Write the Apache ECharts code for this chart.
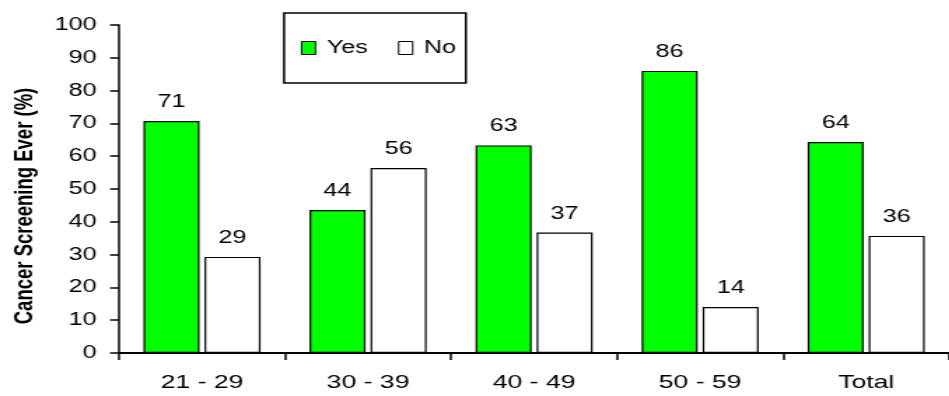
<!DOCTYPE html>
<html><head><meta charset="utf-8">
<script src="https://cdn.jsdelivr.net/npm/echarts@6/dist/echarts.min.js"></script>
<style>
html,body{margin:0;padding:0;overflow:hidden;background:#fff;width:949px;height:396px}
#chart{width:678px;height:396px;transform:scaleX(1.4);transform-origin:0 0;}
</style></head><body><div id="chart"></div>
<script>
const categories = ['21 - 29', '30 - 39', '40 - 49', '50 - 59', 'Total'];
const seriesNames = ['Yes', 'No'];
const yesValues = [70.7, 43.6, 63.3, 86.0, 64.3];
const noValues = [29.3, 56.4, 36.7, 14.0, 35.7];
const yAxisTitle = 'Cancer Screening Ever (%)';

const FONT = "'Liberation Sans', Arial, sans-serif";
const chart = echarts.init(document.getElementById('chart'), null, {renderer: 'canvas'});
const labelOpt = {
  show: true, position: 'top', distance: 10,
  fontFamily: FONT, fontSize: 18, color: '#000',
  formatter: p => String(Math.round(p.value))
};
chart.setOption({
  animation: false,
  backgroundColor: '#fff',
  textStyle: {fontFamily: FONT},
  grid: {left: 83.6, top: 25, width: 600, height: 328, containLabel: false},
  legend: {
    data: seriesNames,
    left: 202.9, top: 13,
    orient: 'horizontal',
    icon: 'rect',
    itemWidth: 10, itemHeight: 13, itemGap: 21.5,
    padding: [26, 7, 26, 12],
    borderColor: '#000', borderWidth: 1.5,
    itemStyle: {borderColor: '#000', borderWidth: 1},
    textStyle: {fontFamily: FONT, fontSize: 18, color: '#000', padding: [0, 0, 0, 3]}
  },
  xAxis: {
    type: 'category',
    data: categories,
    axisLine: {show: true, lineStyle: {color: '#000', width: 2}},
    axisTick: {show: true, length: 7, lineStyle: {color: '#000', width: 1.5}},
    axisLabel: {fontFamily: FONT, fontSize: 19, color: '#000', margin: 20},
    splitLine: {show: false}
  },
  yAxis: {
    type: 'value',
    min: 0, max: 100, interval: 10,
    name: yAxisTitle,
    nameLocation: 'middle',
    nameGap: 58,
    nameTextStyle: {fontFamily: FONT, fontSize: 18.5, fontWeight: 'bold', color: '#000', padding: [0, 34, 0, 0]},
    axisLine: {show: true, lineStyle: {color: '#000', width: 1.5}},
    axisTick: {show: true, length: 6.4, lineStyle: {color: '#000', width: 1.5}},
    axisLabel: {fontFamily: FONT, fontSize: 18, color: '#000', margin: 16},
    splitLine: {show: false}
  },
  series: [
    {name: seriesNames[0], type: 'bar', data: yesValues, barWidth: 40, barGap: '9%',
     itemStyle: {color: '#00ff00', borderColor: '#000', borderWidth: 1.2}, label: labelOpt},
    {name: seriesNames[1], type: 'bar', data: noValues, barWidth: 40, barGap: '9%',
     itemStyle: {color: '#ffffff', borderColor: '#000', borderWidth: 1.2}, label: labelOpt}
  ]
});
</script></body></html>
